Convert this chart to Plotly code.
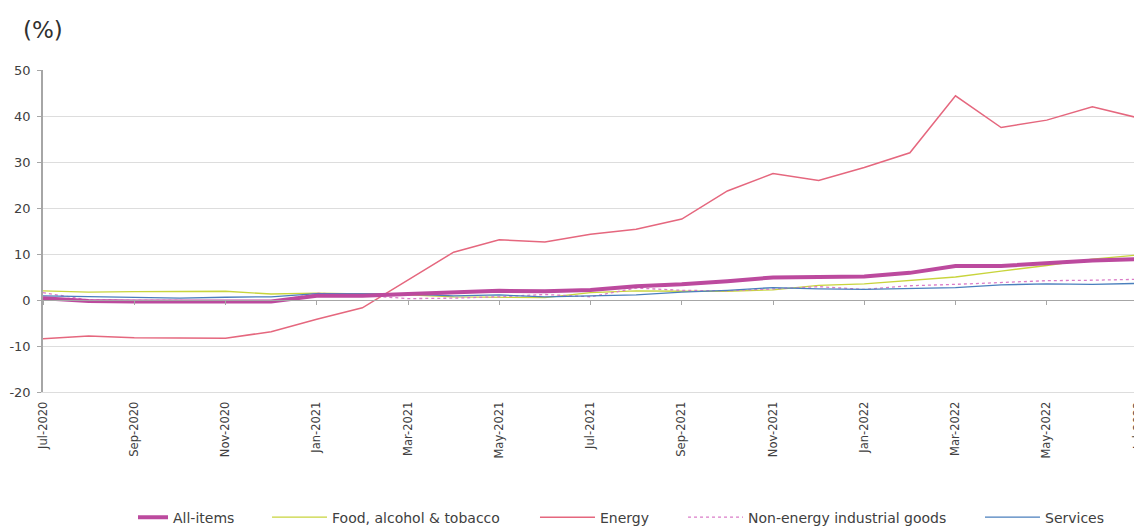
import plotly.graph_objects as go

months = ["Jul-2020", "Aug-2020", "Sep-2020", "Oct-2020", "Nov-2020", "Dec-2020",
          "Jan-2021", "Feb-2021", "Mar-2021", "Apr-2021", "May-2021", "Jun-2021",
          "Jul-2021", "Aug-2021", "Sep-2021", "Oct-2021", "Nov-2021", "Dec-2021",
          "Jan-2022", "Feb-2022", "Mar-2022", "Apr-2022", "May-2022", "Jun-2022",
          "Jul-2022"]

all_items = [0.4, -0.2, -0.3, -0.3, -0.3, -0.3, 0.9, 0.9, 1.3, 1.6, 2.0, 1.9,
             2.2, 3.0, 3.4, 4.1, 4.9, 5.0, 5.1, 5.9, 7.4, 7.4, 8.1, 8.6, 8.9]
food = [2.0, 1.7, 1.8, 1.9, 1.9, 1.3, 1.5, 1.3, 1.1, 0.7, 0.6, 0.5,
        1.6, 2.0, 1.9, 1.9, 2.2, 3.2, 3.5, 4.2, 5.0, 6.3, 7.5, 8.9, 9.8]
energy = [-8.4, -7.8, -8.2, -8.2, -8.3, -6.9, -4.2, -1.7, 4.3, 10.4, 13.1, 12.6,
          14.3, 15.4, 17.6, 23.7, 27.5, 26.0, 28.8, 32.0, 44.4, 37.5, 39.1, 42.0, 39.6]
neig = [1.6, 0.0, -0.1, -0.1, -0.3, -0.5, 1.5, 1.0, 0.3, 0.4, 0.7, 1.2,
        0.7, 2.6, 2.1, 2.0, 2.4, 2.9, 2.3, 3.1, 3.4, 3.8, 4.2, 4.3, 4.5]
services = [0.9, 0.7, 0.5, 0.4, 0.6, 0.7, 1.4, 1.3, 1.3, 0.9, 1.1, 0.7,
            0.9, 1.1, 1.7, 2.1, 2.7, 2.4, 2.3, 2.5, 2.7, 3.3, 3.5, 3.4, 3.6]

tick_labels = months[::2]
y_ticks = [-20, -10, 0, 10, 20, 30, 40, 50]
y_tick_text = [str(v) for v in y_ticks]

FONT = "DejaVu Sans, Verdana, sans-serif"
TXT = "#404040"

fig = go.Figure()
series = [
    ("Food, alcohol & tobacco", food, "#C8D43C", 1.3, "solid", "legend2"),
    ("Non-energy industrial goods", neig, "#DA7CC8", 1.3, "dot", "legend4"),
    ("Services", services, "#4A7FBD", 1.3, "solid", "legend5"),
    ("Energy", energy, "#E5677E", 1.5, "solid", "legend3"),
    ("All-items", all_items, "#BC4A9E", 4, "solid", "legend"),
]
for name, vals, col, w, dash, lg in series:
    fig.add_trace(go.Scatter(x=months, y=vals, mode="lines", name=name,
                             line=dict(color=col, width=w, dash=dash),
                             legend=lg))

# invisible trace carrying the crossing axis drawn at y = 0
fig.add_trace(go.Scatter(x=months, y=services, mode="lines", xaxis="x2",
                         line=dict(color="rgba(0,0,0,0)", width=0),
                         showlegend=False, hoverinfo="skip"))

# (legend key, x position, symbol width)
leg_spec = [("legend", 0.0822, 30), ("legend2", 0.2046, 55),
            ("legend3", 0.4493, 55), ("legend4", 0.5845, 55),
            ("legend5", 0.8557, 55)]
legend_common = dict(orientation="h", yanchor="middle", y=-0.39, xanchor="left",
                     font=dict(family=FONT, size=14, color=TXT),
                     bgcolor="rgba(0,0,0,0)")

layout = dict(
    template="none",
    width=1134, height=519,
    margin=dict(l=35, r=4, t=62, b=135, autoexpand=False),
    plot_bgcolor="white", paper_bgcolor="white",
    font=dict(family=FONT, size=12, color=TXT),
    xaxis=dict(type="category", categoryorder="array", categoryarray=months,
               range=[0, len(months) - 1], automargin=False,
               tickmode="array", tickvals=tick_labels, ticktext=tick_labels,
               tickangle=-90, showgrid=False, showline=True, linecolor="#DDDDDD",
               linewidth=1, ticks="", zeroline=False, ticklabelstandoff=4,
               tickfont=dict(family=FONT, size=11.5, color=TXT)),
    xaxis2=dict(type="category", categoryorder="array", categoryarray=months,
                range=[0, len(months) - 1], overlaying="x", anchor="free",
                position=20 / 70, side="bottom", automargin=False,
                tickmode="array", tickvals=tick_labels, showticklabels=False,
                ticks="outside", ticklen=4, tickcolor="#A6A6A6",
                showline=True, linecolor="#A6A6A6", linewidth=1, showgrid=False,
                zeroline=False),
    yaxis=dict(range=[-20, 50], tickmode="array", tickvals=y_ticks,
               ticktext=y_tick_text, showgrid=True, automargin=False,
               gridcolor="#DDDDDD", gridwidth=1, zeroline=False,
               showline=True, linecolor="#A6A6A6", linewidth=1.5,
               ticks="outside", ticklen=4, tickcolor="#A6A6A6",
               ticklabelstandoff=4,
               tickfont=dict(family=FONT, size=13, color=TXT)),
    annotations=[dict(text="(%)", xref="paper", yref="paper", x=-0.02, y=1.125,
                      xanchor="left", yanchor="middle", showarrow=False,
                      font=dict(family=FONT, size=23, color="#303030"))],
)
for k, xv, iw in leg_spec:
    layout[k] = dict(legend_common, x=xv, itemwidth=iw)

fig.update_layout(**layout)
fig.write_html("out.html")
